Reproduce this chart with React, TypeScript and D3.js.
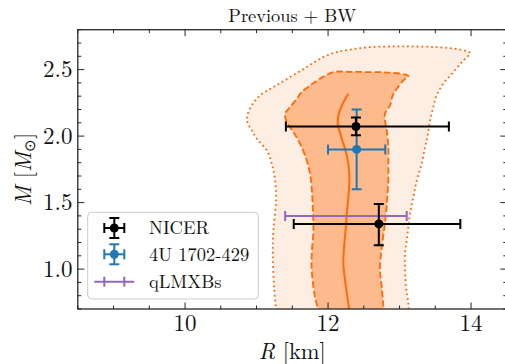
import React from "react";
import * as d3 from "d3";

// Mass–radius credible bands, [R (km), M (Msun)], traced bottom-left → top → bottom-right
const OUTER_BAND: [number, number][] = [
  [11.28, 0.65], [11.245, 0.865], [11.227, 1.116], [11.235, 1.291], [11.273, 1.517],
  [11.259, 1.667], [11.213, 1.792], [11.143, 1.892], [11.003, 1.98], [10.933, 2.043],
  [10.871, 2.105], [10.871, 2.156], [10.933, 2.231], [11.049, 2.306], [11.235, 2.368],
  [11.469, 2.444], [11.702, 2.519], [11.934, 2.594], [12.122, 2.632], [12.308, 2.65],
  [12.587, 2.669], [13.053, 2.674], [13.52, 2.669], [13.846, 2.65], [13.986, 2.624],
  [13.892, 2.569], [13.752, 2.481], [13.612, 2.394], [13.52, 2.306], [13.473, 2.218],
  [13.427, 2.118], [13.389, 1.992], [13.357, 1.917], [13.31, 1.792], [13.241, 1.667],
  [13.193, 1.541], [13.147, 1.417], [13.123, 1.316], [13.101, 1.216], [13.077, 1.116],
  [13.091, 0.865], [13.123, 0.74], [13.13, 0.65],
];

const INNER_BAND: [number, number][] = [
  [11.888, 0.65], [11.818, 0.789], [11.772, 0.99], [11.772, 1.116], [11.795, 1.291],
  [11.786, 1.466], [11.772, 1.605], [11.748, 1.717], [11.702, 1.817], [11.608, 1.943],
  [11.515, 2.03], [11.422, 2.105], [11.399, 2.168], [11.469, 2.218], [11.562, 2.281],
  [11.632, 2.331], [11.748, 2.381], [11.888, 2.432], [12.074, 2.481], [12.308, 2.483],
  [12.587, 2.481], [12.867, 2.477], [13.123, 2.453], [13.053, 2.419], [12.961, 2.356],
  [12.905, 2.306], [12.867, 2.231], [12.797, 2.171], [12.797, 2.118], [12.821, 2.043],
  [12.843, 1.917], [12.843, 1.792], [12.843, 1.667], [12.829, 1.541], [12.811, 1.417],
  [12.783, 1.291], [12.741, 1.116], [12.727, 0.99], [12.751, 0.865], [12.773, 0.727],
  [12.783, 0.65],
];

const MEDIAN_CURVE: [number, number][] = [
  [12.284, 2.319], [12.214, 2.253], [12.15, 2.168], [12.136, 2.093], [12.172, 2.018],
  [12.214, 1.943], [12.245, 1.892], [12.284, 1.792], [12.298, 1.667], [12.284, 1.541],
  [12.262, 1.417], [12.245, 1.291], [12.224, 1.165], [12.214, 1.041], [12.238, 0.915],
  [12.27, 0.789], [12.31, 0.65],
];

// NICER pulsars: radius, mass, asymmetric errors
const NICER_R = [12.39, 12.71];
const NICER_R_LO = [0.98, 1.19];
const NICER_R_HI = [1.3, 1.14];
const NICER_M = [2.072, 1.34];
const NICER_M_LO = [0.066, 0.16];
const NICER_M_HI = [0.067, 0.15];

// 4U 1702-429
const BURSTER_R = [12.4];
const BURSTER_R_ERR = [0.4];
const BURSTER_M = [1.9];
const BURSTER_M_ERR = [0.3];

// qLMXBs (radius constraint at fixed mass)
const QLMXB_R = [12.25];
const QLMXB_R_ERR = [0.85];
const QLMXB_M = [1.4];

const LEGEND_LABELS = ["NICER", "4U 1702-429", "qLMXBs"];
const X_TICKS = [10, 12, 14];
const Y_TICKS = [1.0, 1.5, 2.0, 2.5];

const W = 505;
const H = 364;
const LEFT = 77.8;
const RIGHT = 506.8;
const TOP = 29.7;
const BOTTOM = 309;

const ORANGE = "#ff6a0a";
const FONT = "'Latin Modern Roman', 'Liberation Serif', serif";
const txt = { fontFamily: FONT };

export default function App() {
  const x = d3.scaleLinear().domain([8.5, 14.5]).range([LEFT, RIGHT]);
  const y = d3.scaleLinear().domain([0.7, 2.8]).range([BOTTOM, TOP]);

  const smooth = d3
    .line<[number, number]>()
    .x((d) => x(d[0]))
    .y((d) => y(d[1]))
    .curve(d3.curveCatmullRom.alpha(0.5));

  const outerPath = smooth(OUTER_BAND) + "Z";
  const innerPath = smooth(INNER_BAND) + "Z";
  const medianPath = smooth(MEDIAN_CURVE) || "";

  const lw = 1.8;
  const cap = 5;

  const xMinor = d3.range(8.5, 14.51, 0.5).filter((v) => !X_TICKS.some((t) => Math.abs(t - v) < 1e-6));
  const yMinor = d3.range(0.7, 2.801, 0.1).filter((v) => !Y_TICKS.some((t) => Math.abs(t - v) < 1e-6));

  const errBar = (
    key: string,
    cx: number,
    cy: number,
    xlo: number,
    xhi: number,
    ylo: number | null,
    yhi: number | null,
    color: string,
    marker: boolean
  ) => (
    <g key={key} stroke={color} strokeWidth={2} fill="none">
      <line x1={xlo} x2={xhi} y1={cy} y2={cy} />
      <line x1={xlo} x2={xlo} y1={cy - cap} y2={cy + cap} />
      <line x1={xhi} x2={xhi} y1={cy - cap} y2={cy + cap} />
      {ylo !== null && yhi !== null && (
        <>
          <line x1={cx} x2={cx} y1={ylo} y2={yhi} />
          <line x1={cx - cap} x2={cx + cap} y1={ylo} y2={ylo} />
          <line x1={cx - cap} x2={cx + cap} y1={yhi} y2={yhi} />
        </>
      )}
      {marker && <circle cx={cx} cy={cy} r={4.5} fill={color} stroke="none" />}
    </g>
  );

  const legendX = 87.7;
  const legendY = 212.3;
  const rowY = [228, 254.3, 281.7];
  const handleCx = 114.3;
  const colors = ["#000000", "#1f77b4", "#9467bd"];

  return (
    <svg
      width={W}
      height={H}
      style={{ position: "fixed", left: 0, top: 0, background: "#fff" }}
    >
      <defs>
        <clipPath id="plot-area">
          <rect x={LEFT} y={TOP} width={RIGHT - LEFT} height={BOTTOM - TOP} />
        </clipPath>
      </defs>

      <g clipPath="url(#plot-area)">
        <path d={outerPath} fill="#fdeee3" stroke={ORANGE} strokeWidth={lw} strokeDasharray={`${lw} ${lw * 1.65}`} />
        <path d={innerPath} fill="#fdba8c" stroke={ORANGE} strokeWidth={lw} strokeDasharray={`${lw * 3.7} ${lw * 1.6}`} />
        <path d={medianPath} fill="none" stroke={ORANGE} strokeWidth={2} />

        {QLMXB_R.map((r, i) =>
          errBar(`q${i}`, x(r), y(QLMXB_M[i]), x(r - QLMXB_R_ERR[i]), x(r + QLMXB_R_ERR[i]), null, null, "#9467bd", false)
        )}
        {BURSTER_R.map((r, i) =>
          errBar(
            `b${i}`,
            x(r),
            y(BURSTER_M[i]),
            x(r - BURSTER_R_ERR[i]),
            x(r + BURSTER_R_ERR[i]),
            y(BURSTER_M[i] - BURSTER_M_ERR[i]),
            y(BURSTER_M[i] + BURSTER_M_ERR[i]),
            "#1f77b4",
            true
          )
        )}
        {NICER_R.map((r, i) =>
          errBar(
            `n${i}`,
            x(r),
            y(NICER_M[i]),
            x(r - NICER_R_LO[i]),
            x(r + NICER_R_HI[i]),
            y(NICER_M[i] - NICER_M_LO[i]),
            y(NICER_M[i] + NICER_M_HI[i]),
            "#000000",
            true
          )
        )}
      </g>

      {/* frame */}
      <rect x={LEFT} y={TOP} width={RIGHT - LEFT} height={BOTTOM - TOP} fill="none" stroke="#262626" strokeWidth={1.3} />

      {/* ticks, inward on all four sides */}
      <g stroke="#262626" strokeWidth={1}>
        {X_TICKS.map((t) => (
          <g key={`xt${t}`}>
            <line x1={x(t)} x2={x(t)} y1={BOTTOM} y2={BOTTOM - 6.5} />
            <line x1={x(t)} x2={x(t)} y1={TOP} y2={TOP + 6.5} />
          </g>
        ))}
        {xMinor.map((t) => (
          <g key={`xm${t}`}>
            <line x1={x(t)} x2={x(t)} y1={BOTTOM} y2={BOTTOM - 3.5} />
            <line x1={x(t)} x2={x(t)} y1={TOP} y2={TOP + 3.5} />
          </g>
        ))}
        {Y_TICKS.map((t) => (
          <g key={`yt${t}`}>
            <line x1={LEFT} x2={LEFT + 6.5} y1={y(t)} y2={y(t)} />
            <line x1={RIGHT} x2={RIGHT - 6.5} y1={y(t)} y2={y(t)} />
          </g>
        ))}
        {yMinor.map((t) => (
          <g key={`ym${t}`}>
            <line x1={LEFT} x2={LEFT + 3.5} y1={y(t)} y2={y(t)} />
            <line x1={RIGHT} x2={RIGHT - 3.5} y1={y(t)} y2={y(t)} />
          </g>
        ))}
      </g>

      {/* tick labels */}
      <g fontSize={23} fill="#111">
        {X_TICKS.map((t) => (
          <text key={`xl${t}`} style={txt} x={x(t)} y={330.7} textAnchor="middle">
            {t}
          </text>
        ))}
        {Y_TICKS.map((t) => (
          <text key={`yl${t}`} style={txt} x={72.5} y={y(t) + 7.6} textAnchor="end">
            {t.toFixed(1)}
          </text>
        ))}
      </g>

      {/* title and axis labels */}
      <text style={txt} x={(LEFT + RIGHT) / 2} y={21.7} textAnchor="middle" fontSize={18.4} fill="#111">
        Previous + BW
      </text>
      <text style={txt} x={(LEFT + RIGHT) / 2} y={358.5} textAnchor="middle" fontSize={22.5} fill="#111">
        <tspan fontStyle="italic">R</tspan> [km]
      </text>
      <text style={txt} transform={`translate(31,${(TOP + BOTTOM) / 2}) rotate(-90)`} textAnchor="middle" fontSize={22.5} fill="#111">
        <tspan fontStyle="italic">M</tspan> [<tspan fontStyle="italic">M</tspan>
        <tspan fontSize={15} dy={4}>⊙</tspan>
        <tspan dy={-4}>]</tspan>
      </text>

      {/* legend */}
      <rect x={legendX} y={legendY} width={170.6} height={86.7} rx={4} fill="#fff" fillOpacity={0.85} stroke="#cccccc" strokeWidth={1} />
      {rowY.map((ry, i) => (
        <g key={`lg${i}`}>
          {i < 2
            ? errBar(`lh${i}`, handleCx, ry, handleCx - 10, handleCx + 10, ry + 10, ry - 10, colors[i], true)
            : (
              <g stroke={colors[i]} strokeWidth={2}>
                <line x1={handleCx - 20} x2={handleCx + 20} y1={ry} y2={ry} />
                <line x1={handleCx - 10} x2={handleCx - 10} y1={ry - cap} y2={ry + cap} />
                <line x1={handleCx + 10} x2={handleCx + 10} y1={ry - cap} y2={ry + cap} />
              </g>
            )}
          <text style={txt} x={149} y={ry + 6.3} fontSize={18.5} fill="#111">
            {LEGEND_LABELS[i]}
          </text>
        </g>
      ))}
    </svg>
  );
}
